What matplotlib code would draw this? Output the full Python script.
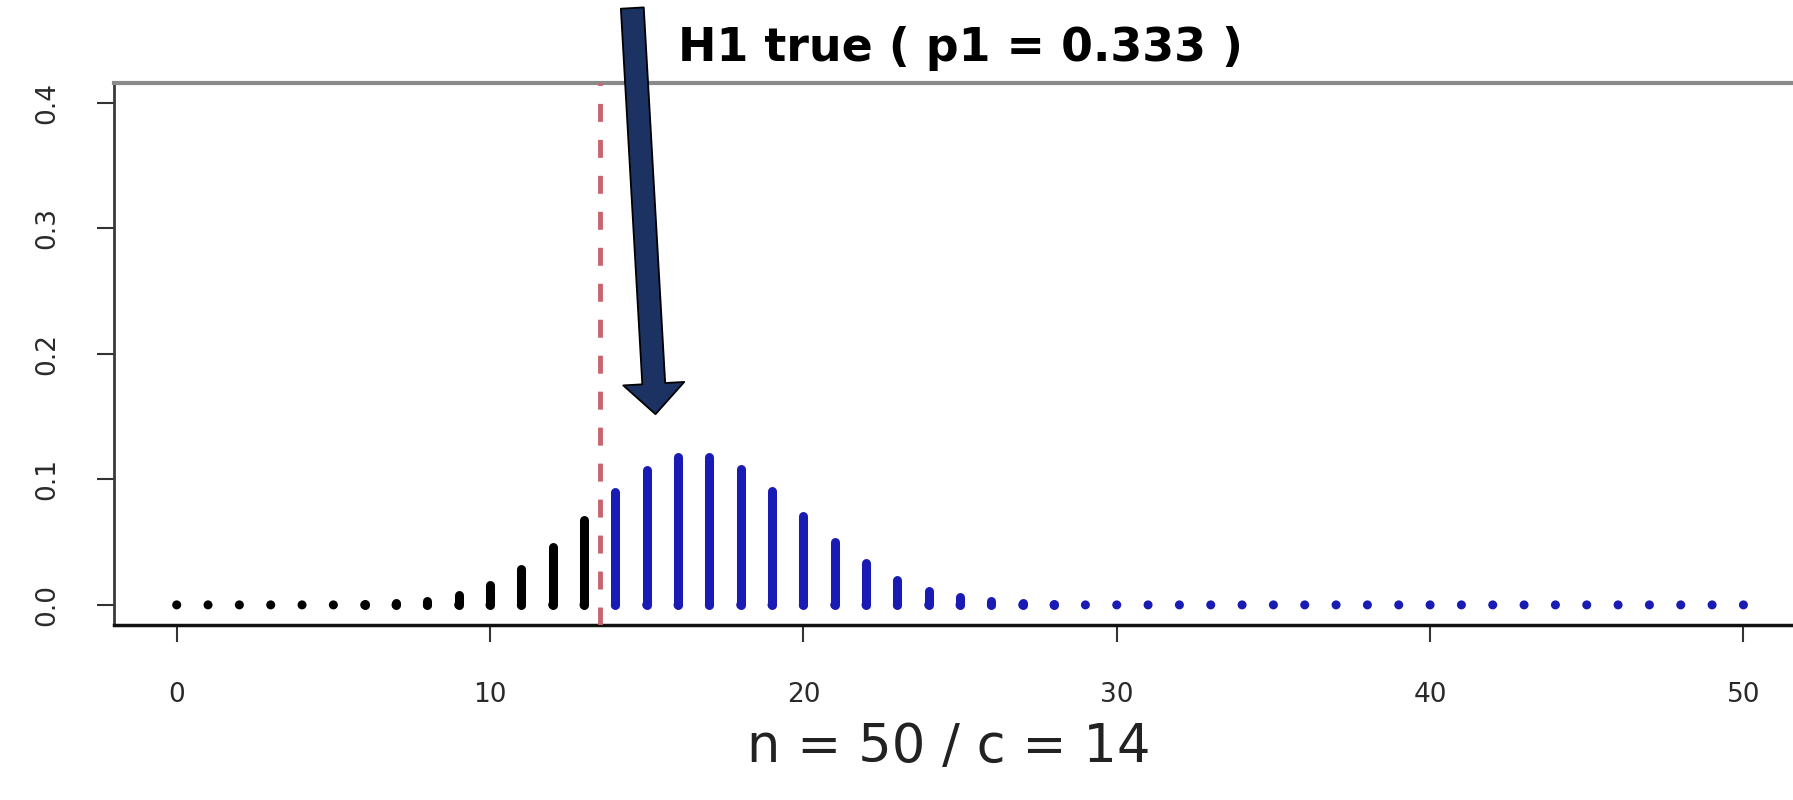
import matplotlib.pyplot as plt

# binomial probabilities under H1 (n = 50, p1 = 1/3)
k = list(range(51))
prob = [0, 0, 0, 0, 0.00002, 0.0001, 0.0004, 0.0012, 0.0033, 0.0077,
        0.0157, 0.0286, 0.0465, 0.0679, 0.0898, 0.1077, 0.1178, 0.1178, 0.1080, 0.0910,
        0.0705, 0.0504, 0.0332, 0.0202, 0.0114, 0.0059, 0.0028, 0.0013, 0.0005, 0.0002,
        0.0001, 0, 0, 0, 0, 0, 0, 0, 0, 0,
        0, 0, 0, 0, 0, 0, 0, 0, 0, 0,
        0]
base = [0] * len(k)
n = 50
c = 14
p1 = 0.333
xticks = [0, 10, 20, 30, 40, 50]
yticks = [0.0, 0.1, 0.2, 0.3, 0.4]
ytick_labels = ["0.0", "0.1", "0.2", "0.3", "0.4"]

fig = plt.figure(figsize=(17.93, 8), dpi=100)
ax = fig.add_axes([0.0636, 0.2188, 0.9437, 0.6775])

colors = ["black" if x < c else "#1a1ab4" for x in k]
ax.vlines(k, base, prob, colors=colors, lw=6.5, capstyle="round", zorder=3)
ax.scatter(k, base, s=42, c=colors, marker="o", linewidths=0, zorder=3)

# critical value line
ax.axvline(c - 0.5, color="#c8646e", lw=3.5, ls=(0, (3.7, 3.7)), zorder=4)

ax.set_xlim(-2, 52)
ax.set_ylim(-0.016, 0.416)
ax.set_xticks(xticks)
ax.set_yticks(yticks)
ax.set_yticklabels(ytick_labels, rotation=90, va="center")
ax.tick_params(direction="out", length=12, width=1.5, color="#333333",
               labelsize=19, labelcolor="#2a2a2a")
ax.tick_params(axis="x", pad=29)
ax.tick_params(axis="y", pad=27)

ax.spines["left"].set_color("#3a3a3a")
ax.spines["left"].set_linewidth(2)
ax.spines["bottom"].set_color("#111111")
ax.spines["bottom"].set_linewidth(2.5)
ax.spines["top"].set_color("#8a8a8a")
ax.spines["top"].set_linewidth(3)
ax.spines["right"].set_color("#8a8a8a")

ax.set_title(f"H1 true ( p1 = {p1} )", fontsize=33, fontweight="bold", pad=16)
ax.set_xlabel(f"n = {n} / c = {c}", fontsize=38, color="#222222")
ax.xaxis.set_label_coords(0.4935, -0.178)

ax.annotate("", xy=(15.28, 0.152), xytext=(14.54, 0.4757), annotation_clip=False,
            arrowprops=dict(arrowstyle="simple,head_length=22,head_width=44,tail_width=16.5",
                            mutation_scale=1, fc="#1b3262", ec="black", lw=1.3,
                            shrinkA=0, shrinkB=0),
            zorder=10)

fig.savefig("out.png", dpi=100)
